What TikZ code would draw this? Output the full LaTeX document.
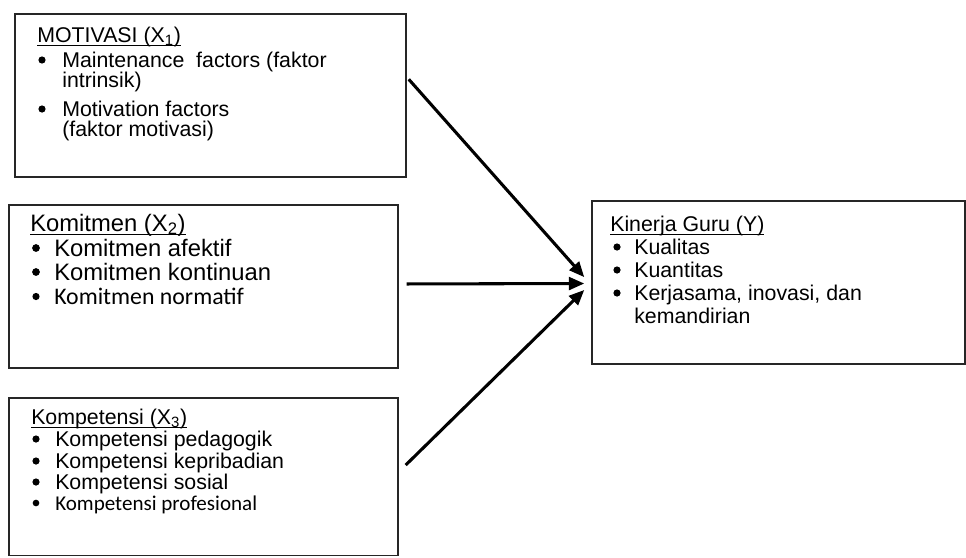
\documentclass[tikz,border=0pt]{standalone}
\usepackage{fontspec}
\setmainfont{Liberation Sans}
\newfontfamily\fC{Carlito}
\usetikzlibrary{arrows.meta}
\newcommand\ulx[1]{\setbox0\hbox{#1}\rlap{\rule[-3pt]{\wd0}{0.9pt}}\box0}
\newcommand\fntA{\fontsize{16}{19}\selectfont}
\newcommand\fntAC{\fC\fontsize{15.8}{19}\selectfont}
\newcommand\fntB{\fontsize{17.85}{21}\selectfont}
\newcommand\fntBC{\fC\fontsize{17.85}{21}\selectfont}
\newcommand\fntY{\fontsize{16}{19}\selectfont}
\tikzset{
  boxst/.style={draw=black!85, line width=1.1pt, inner sep=0pt, fill=none},
  tl/.style={anchor=base west, inner sep=0pt},
  arr/.style={line width=2.3pt, -{Triangle[length=11.5pt,width=9.5pt]}},
}
\begin{document}
\begin{tikzpicture}[x=0.75pt,y=-0.75pt]
\useasboundingbox (0,0) rectangle (966,557);
% boxes
\node[boxst, minimum width=293.25pt, minimum height=122.25pt] (m) at (210.5,95.5) {};
\node[boxst, minimum width=291.75pt, minimum height=122.25pt] (k) at (203.5,286.5) {};
\node[boxst, minimum width=291.75pt, minimum height=118.1pt] (p) at (203.5,476.75) {};
\node[boxst, minimum width=279.75pt, minimum height=122.25pt] (y) at (778.5,282.5) {};
% box 1 text
\node[tl, font=\fntA] (m0) at (37,42) {\ulx{MOTIVASI (X\textsubscript{1})}};
\node[tl, font=\fntA] (m1) at (62,67) {Maintenance\ \ factors (faktor};
\node[tl, font=\fntA] (m2) at (62,87) {intrinsik)};
\node[tl, font=\fntA] (m3) at (62,116) {Motivation factors};
\node[tl, font=\fntA] (m4) at (62,136) {(faktor motivasi)};
\fill (42,60) circle (2.7pt);
\fill (42,109) circle (2.7pt);
% box 2 text
\node[tl, font=\fntB] (k0) at (30,231) {\ulx{Komitmen (X\textsubscript{2})}};
\node[tl, font=\fntB] (k1) at (54,256) {Komitmen afektif};
\node[tl, font=\fntB] (k2) at (54,280) {Komitmen kontinuan};
\node[tl, font=\fntBC] (k3) at (54,304) {Komitmen normatif};
\fill (36,248) circle (2.9pt);
\fill (36,272) circle (2.9pt);
\fill (36,296.5) circle (2.7pt);
% box 3 text
\node[tl, font=\fntA] (p0) at (31,424) {\ulx{Kompetensi (X\textsubscript{3})}};
\node[tl, font=\fntA] (p1) at (55,446) {Kompetensi pedagogik};
\node[tl, font=\fntA] (p2) at (55,468) {Kompetensi kepribadian};
\node[tl, font=\fntA] (p3) at (55,489) {Kompetensi sosial};
\node[tl, font=\fntAC] (p4) at (55,510) {Kompetensi profesional};
\fill (36,439) circle (2.7pt);
\fill (36,461) circle (2.7pt);
\fill (36,482) circle (2.7pt);
\fill (36,503) circle (2.5pt);
% Y box text
\node[tl, font=\fntY] (y0) at (610,231) {\ulx{Kinerja Guru (Y)}};
\node[tl, font=\fntY] (y1) at (634,254) {Kualitas};
\node[tl, font=\fntY] (y2) at (634,277) {Kuantitas};
\node[tl, font=\fntY] (y3) at (634,300) {Kerjasama, inovasi, dan};
\node[tl, font=\fntY] (y4) at (634,323) {kemandirian};
\fill (617,247) circle (2.7pt);
\fill (617,270) circle (2.7pt);
\fill (617,293) circle (2.7pt);
% arrows
\coordinate (t1) at ([xshift=-5.25pt,yshift=4pt]y.west);
\coordinate (t2) at ([xshift=-5.25pt,yshift=-0.75pt]y.west);
\coordinate (t3) at ([xshift=-5.25pt,yshift=-5.6pt]y.west);
\draw[arr] ([xshift=1.5pt,yshift=-49.5pt]m.north east) -- (t1);
\draw[arr] ([xshift=6pt,yshift=1.9pt]k.east) -- (t2);
\draw[arr] ([xshift=5.25pt,yshift=8.8pt]p.east) -- (t3);
\end{tikzpicture}
\end{document}
